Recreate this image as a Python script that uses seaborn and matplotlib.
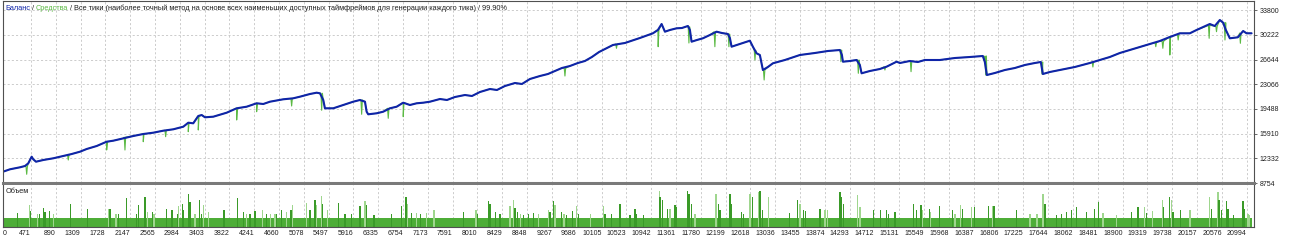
import numpy as np
import pandas as pd
import matplotlib
matplotlib.use("Agg")
import matplotlib.pyplot as plt
import seaborn as sns

# ---------------- data ----------------
bal_trade = [0, 118, 203, 287, 371, 427, 484, 511, 557, 680, 849, 1018, 1160, 1300, 1413, 1582,
             1750, 1862, 2031, 2200, 2368, 2537, 2706, 2875, 3044, 3128, 3212, 3297, 3354, 3410,
             3550, 3776, 3945, 4114, 4282, 4394, 4507, 4731, 4900, 5013, 5182, 5295, 5351, 5407,
             5435, 5576, 5744, 5913, 6026, 6111, 6139, 6166, 6308, 6419, 6533, 6646, 6757, 6870,
             6983, 7095, 7208, 7377, 7495, 7630, 7799, 7917, 8052, 8221, 8339, 8474, 8643, 8761,
             8896, 9065, 9200, 9318, 9436, 9571, 9706, 9824, 9942, 10063, 10297, 10499, 10752,
             10972, 11056, 11119, 11175, 11259, 11372, 11462, 11563, 11597, 11625, 11715, 11816,
             11934, 12047, 12137, 12238, 12272, 12300, 12441, 12542, 12609, 12660, 12722, 12778,
             12829, 12913, 12998, 13200, 13453, 13706, 13926, 14129, 14163, 14180, 14298, 14411,
             14466, 14495, 14635, 14804, 14917, 15086, 15142, 15310, 15445, 15563, 15817, 16070,
             16323, 16542, 16576, 16610, 16745, 16914, 17083, 17251, 17420, 17521, 17555, 17673,
             17842, 18095, 18349, 18518, 18686, 18855, 19024, 19193, 19361, 19530, 19699, 19868,
             20037, 20150, 20374, 20458, 20543, 20599, 20645, 20712, 20847, 20937, 20994, 21079]
bal_value = [10390, 10741, 10886, 11031, 11219, 11611, 12568, 12191, 11843, 12089, 12336, 12669,
             12959, 13293, 13684, 14119, 14743, 14888, 15236, 15569, 15859, 16048, 16338, 16541,
             16918, 17498, 17411, 18469, 18614, 18281, 18368, 18948, 19586, 19818, 20311, 20209,
             20543, 20891, 21036, 21268, 21659, 21848, 21761, 20789, 19586, 19586, 20064, 20543,
             20789, 20543, 19093, 18716, 18861, 19093, 19586, 19818, 20398, 20064, 20311, 20398,
             20543, 20934, 20789, 21224, 21514, 21369, 21949, 22384, 22239, 22819, 23254, 23109,
             23834, 24269, 24559, 24994, 25429, 25719, 26154, 26444, 27024, 27749, 28764, 29054,
             29779, 30461, 30939, 31809, 30693, 30939, 31186, 31229, 31519, 30939, 29243, 29489,
             29736, 30214, 30693, 30504, 30359, 29779, 28518, 28909, 29199, 29388, 28518, 27561,
             27314, 25139, 25574, 26111, 26589, 27314, 27604, 27894, 28039, 27314, 26343, 26444,
             26589, 25864, 24661, 24994, 25284, 25618, 26343, 26154, 26444, 26299, 26589, 26589,
             26879, 27024, 27169, 26299, 24414, 24704, 25139, 25429, 25864, 26154, 26299, 24559,
             24849, 25139, 25574, 26154, 26589, 27024, 27604, 28039, 28474, 28909, 29344, 29924,
             30461, 30461, 30939, 31809, 31519, 32389, 31998, 30939, 29736, 29881, 30794, 30461,
             30461]

# equity draw-downs (trade, lowest equity, equity before the dip)
dip_trade = [400, 1102, 1750, 2059, 2368, 2746, 3128, 3297, 3945, 4282, 4873, 5380, 6055, 6504,
             6757, 9487, 10357, 11061, 11580, 12018, 12255, 12695, 12850, 14146, 14440, 14889,
             15330, 16590, 17540, 18400, 19462, 19581, 19699, 19840, 20363, 20487, 20630, 20890]
dip_low = [10016, 12089, 13539, 13539, 14743, 15468, 16193, 16439, 17889, 19093, 19919, 19300,
           18716, 18136, 18368, 24269, 28286, 28518, 29054, 28518, 28518, 26589, 23689, 26343,
           24661, 25139, 24900, 24414, 24559, 25574, 28518, 28286, 27314, 29489, 29736, 30693,
           29489, 29010]
dip_top = [11150, 12800, 14700, 15400, 15859, 16400, 17400, 18400, 19586, 20300, 21000, 21761,
           20789, 19586, 20398, 25400, 28900, 30939, 31400, 30693, 30359, 28000, 25139, 28039,
           26589, 25618, 26400, 27169, 26299, 26300, 29100, 29300, 29924, 30300, 31600, 31500,
           31998, 30500]

# volume (lots per trade)
base_lot = 0.09
n_trades = 21090
dark_trade = [241, 468, 613, 680, 709, 782, 1143, 1430, 1806, 1946, 2088, 2257, 2284, 2397, 2520,
              2763, 2853, 2942, 3033, 3044, 3128, 3157, 3314, 3354, 3730, 3962, 4056, 4169, 4254,
              4451, 4620, 4704, 4861, 5182, 5267, 5397, 5660, 5773, 5886, 6026, 6139, 6262, 6561,
              6730, 6803, 6899, 7051, 7770, 8006, 8192, 8221, 8317, 8389, 8643, 8681, 8783, 8867,
              8951, 9233, 9289, 9431, 9515, 9616, 9711, 10162, 10275, 10415, 10584, 10668, 10697,
              10808, 11090, 11136, 11213, 11343, 11372, 11551, 11580, 11625, 12074, 12103, 12272,
              12300, 12469, 12496, 12655, 12778, 12817, 13273, 13415, 13509, 13550, 13791, 14129,
              14157, 14184, 14691, 14815, 14917, 14944, 15057, 15366, 15423, 15496, 15636, 15805,
              16031, 16193, 16407, 16632, 16733, 17111, 17589, 17786, 17871, 17955, 18040, 18124,
              18293, 18433, 18496, 19052, 19164, 19306, 19598, 19699, 19755, 19885, 20403, 20531,
              20572, 20656, 20683, 20779, 20936, 20965]
dark_lot = [.14, .16, .13, .19, .15, .16, .23, .18, .18, .13, .29, .13, .22, .30, .15,
            .18, .17, .13, .23, .17, .33, .25, .27, .13, .17, .29, .15, .13, .16,
            .13, .13, .17, .17, .17, .27, .23, .24, .13, .13, .21, .22, .12, .13,
            .21, .30, .14, .13, .15, .13, .26, .23, .15, .13, .19, .15, .12, .13,
            .14, .15, .26, .15, .12, .16, .13, .13, .13, .23, .12, .18, .13,
            .12, .30, .27, .18, .22, .20, .36, .33, .23, .23, .17, .33,
            .23, .15, .13, .30, .36, .17, .14, .27, .17, .16, .18, .35,
            .30, .23, .17, .17, .17, .13, .15, .23, .17, .22, .18, .21,
            .17, .18, .20, .21, .21, .17, .23, .12, .13, .15, .17, .20,
            .15, .18, .25, .15, .20, .14, .20, .30, .15, .17, .18, .27,
            .17, .26, .18, .12, .26, .18]
light_trade = [444, 579, 849, 1777, 1907, 2443, 2549, 2959, 3241, 3381, 3466, 4114, 4384, 4519,
               4591, 4789, 4883, 5126, 5295, 5380, 5474, 6111, 6825, 6983, 7152, 7275, 7984, 8558,
               8614, 8739, 9036, 9205, 9318, 9470, 9684, 9920, 10133, 11078, 11259, 11681, 12035,
               12609, 12749, 12918, 13453, 13875, 13914, 14421, 14466, 15524, 15660, 16070, 16166,
               16352, 16706, 17336, 17459, 17560, 18573, 18799, 19277, 19407, 19576, 19728, 20037,
               20374, 20514, 21021, 21049]
light_lot = [.22, .13, .13, .18, .13, .15, .13, .21, .13, .22, .15, .13, .17, .13,
             .13, .15, .22, .24, .22, .31, .17, .26, .23, .14, .14, .17, .17, .21,
             .27, .13, .13, .17, .22, .13, .21, .13, .21, .36, .18, .13, .33,
             .33, .35, .30, .23, .17, .17, .32, .20, .17, .15, .13, .22,
             .20, .21, .13, .13, .33, .14, .12, .20, .16, .27, .27, .17,
             .30, .35, .13, .12]

x_ticks = [0, 471, 890, 1309, 1728, 2147, 2565, 2984, 3403, 3822, 4241, 4660, 5078, 5497, 5916,
           6335, 6754, 7173, 7591, 8010, 8429, 8848, 9267, 9686, 10105, 10523, 10942, 11361,
           11780, 12199, 12618, 13036, 13455, 13874, 14293, 14712, 15131, 15549, 15968, 16387,
           16806, 17225, 17644, 18062, 18481, 18900, 19319, 19738, 20157, 20576, 20994]
y_ticks = [8754, 12332, 15910, 19488, 23066, 26644, 30222, 33800]

title_parts = ["Баланс", " / ", "Средства",
               " / Все тики (наиболее точный метод на основе всех наименьших доступных "
               "таймфреймов для генерации каждого тика) / 99.90%"]
volume_label = "Объем"

# ---------------- style ----------------
sns.set_style("white")
plt.rcParams["font.family"] = ["Liberation Sans", "DejaVu Sans"]

BLUE = "#0F24A8"
GREEN = "#5CBA45"
BASE_GREEN = "#4DAD37"
DARK_SPIKE = "#3A9A28"
LIGHT_SPIKE = "#9FD68E"
GRID = "#C4C4C4"
FRAME = "#505050"

W, H = 1290, 241
fig = plt.figure(figsize=(W / 100, H / 100), dpi=100)
fig.patch.set_facecolor("white")
ax = fig.add_axes([3 / W, 1 - 183 / H, 1251 / W, 182 / H])
axv = fig.add_axes([3 / W, 1 - 227 / H, 1251 / W, 42 / H])

XMAX = 21120
grid_kw = dict(color=GRID, linestyle=(0, (2.5, 2.5)), linewidth=0.6)

# ---- main panel ----
bal = pd.DataFrame({"trade": bal_trade, "value": bal_value})
dips = pd.DataFrame({
    "trade": np.concatenate([np.array(dip_trade) - 12, dip_trade, np.array(dip_trade) + 12]),
    "value": np.concatenate([dip_top, dip_low, dip_top]),
})
eq = pd.concat([bal, dips]).sort_values("trade", kind="stable").reset_index(drop=True)

sns.lineplot(data=eq, x="trade", y="value", ax=ax, color=GREEN, linewidth=0.8,
             estimator=None, sort=False)
sns.lineplot(data=bal, x="trade", y="value", ax=ax, color=BLUE, linewidth=1.5,
             estimator=None, sort=False)

ax.set_xlim(0, XMAX)
ax.set_ylim(8754, 35144)
ax.set_xticks(x_ticks)
ax.set_yticks(y_ticks)
ax.set_xticklabels([])
ax.yaxis.tick_right()
ax.tick_params(axis="y", length=2, width=0.6, color=FRAME, pad=2, labelsize=5, labelcolor="#202020")
ax.tick_params(axis="x", length=0)
ax.grid(True, **grid_kw)
ax.set_axisbelow(True)
ax.set_xlabel("")
ax.set_ylabel("")
for side in ["left", "right", "top"]:
    ax.spines[side].set_color(FRAME)
    ax.spines[side].set_linewidth(0.8)
ax.spines["bottom"].set_color("#7A7A7A")
ax.spines["bottom"].set_linewidth(2.2)

# title with coloured pieces
colors = [BLUE, "#202020", GREEN, "#202020"]
t = ax.text(0.0016, 1 - 8 / 182, title_parts[0], transform=ax.transAxes, fontsize=5.3,
            color=colors[0], va="center", ha="left")
for part, c in zip(title_parts[1:], colors[1:]):
    t = ax.annotate(part, xy=(1, 0), xycoords=t, va="bottom", ha="left",
                    fontsize=5.3, color=c)

# ---- volume panel ----
axv.bar([0], [base_lot], width=n_trades, align="edge", color=BASE_GREEN, linewidth=0)
axv.bar(light_trade, light_lot, width=22, color=LIGHT_SPIKE, linewidth=0, antialiased=False)
axv.bar(dark_trade, dark_lot, width=22, color=DARK_SPIKE, linewidth=0, antialiased=False)
axv.set_xlim(0, XMAX)
axv.set_ylim(0, 0.42)
axv.set_yticks([])
axv.set_xticks(x_ticks)
axv.set_xticklabels([str(v) for v in x_ticks])
axv.tick_params(axis="x", length=0, pad=2.5, labelsize=5, labelcolor="#202020")
for lab in axv.get_xticklabels():
    lab.set_ha("right")
axv.get_xticklabels()[0].set_ha("left")
axv.grid(True, axis="x", **grid_kw)
axv.set_axisbelow(True)
for side in ["left", "right", "bottom"]:
    axv.spines[side].set_color(FRAME)
    axv.spines[side].set_linewidth(0.8)
axv.spines["top"].set_visible(False)
axv.text(0.0024, 1 - 6.7 / 42, volume_label, transform=axv.transAxes, fontsize=5.3,
         color="#202020", va="center", ha="left")

fig.savefig("out.png", dpi=100, facecolor="white")
